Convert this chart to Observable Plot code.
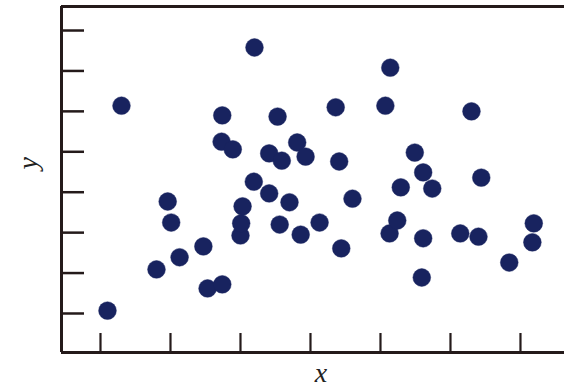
<!DOCTYPE html>
<html>
<head>
<meta charset="utf-8">
<script src="https://cdn.jsdelivr.net/npm/d3@7"></script>
<script src="https://cdn.jsdelivr.net/npm/@observablehq/plot@0.6"></script>
<style>
  html, body { margin: 0; padding: 0; background: #fff; }
</style>
</head>
<body>
<div id="chart"></div>
<script>
const xs = [1.10,1.30,1.80,1.96,2.01,2.13,2.47,2.53,2.74,2.74,2.73,2.89,3.00,3.01,3.03,3.20,3.19,3.41,3.41,3.53,3.59,3.56,3.70,3.81,3.93,3.86,4.13,4.36,4.41,4.44,4.60,5.07,5.14,5.13,5.24,5.29,5.49,5.61,5.61,5.74,5.59,6.14,6.30,6.40,6.44,6.84,7.19,7.17];
const ys = [1.07,6.14,2.09,3.77,3.25,2.39,2.66,1.62,1.72,5.90,5.25,5.06,2.93,3.23,3.65,7.58,4.26,4.96,3.97,5.87,4.78,3.20,3.75,5.23,4.88,2.95,3.25,6.10,4.76,2.61,3.84,6.14,7.08,2.98,3.30,4.12,4.98,4.49,2.86,4.09,1.89,2.98,6.00,2.90,4.36,2.26,3.23,2.76];
const xTicks = [1,2,3,4,5,6,7];
const yTicks = [1,2,3,4,5,6,7,8];
const xDomain = [0.443, 7.629];
const yDomain = [0.035, 8.594];
const xLabel = "x";
const yLabel = "y";

const points = xs.map((x, i) => ({x, y: ys[i]}));
const ink = "#241a1a";
const dotColor = "#18235f";

const chart = Plot.plot({
  width: 564,
  height: 391,
  marginLeft: 61,
  marginRight: 0,
  marginTop: 6,
  marginBottom: 39,
  x: {domain: xDomain},
  y: {domain: yDomain},
  style: {background: "#fff"},
  marks: [
    Plot.axisY(yTicks, {anchor: "left", tickSize: 23, dx: 23, tickFormat: () => "", label: null, stroke: ink, strokeWidth: 2.5}),
    Plot.axisX(xTicks, {anchor: "bottom", tickSize: 19, dy: -19, tickFormat: () => "", label: null, stroke: ink, strokeWidth: 2.2}),
    Plot.ruleY(yDomain, {stroke: ink, strokeWidth: 3}),
    Plot.ruleX([xDomain[0]], {stroke: ink, strokeWidth: 3}),
    Plot.dot(points, {x: "x", y: "y", r: 8.9, fill: dotColor, stroke: dotColor, strokeOpacity: 0.45, strokeWidth: 1}),
    Plot.text([yLabel], {frameAnchor: "left", dx: -33, dy: -10, rotate: -90, text: d => d, fontFamily: "Liberation Serif", fontStyle: "italic", fontSize: 28, fill: "#222"}),
    Plot.text([xLabel], {frameAnchor: "bottom", dx: 8, dy: 29, text: d => d, fontFamily: "Liberation Serif", fontStyle: "italic", fontSize: 28, fill: "#222"})
  ]
});
document.getElementById("chart").appendChild(chart);
</script>
</body>
</html>
